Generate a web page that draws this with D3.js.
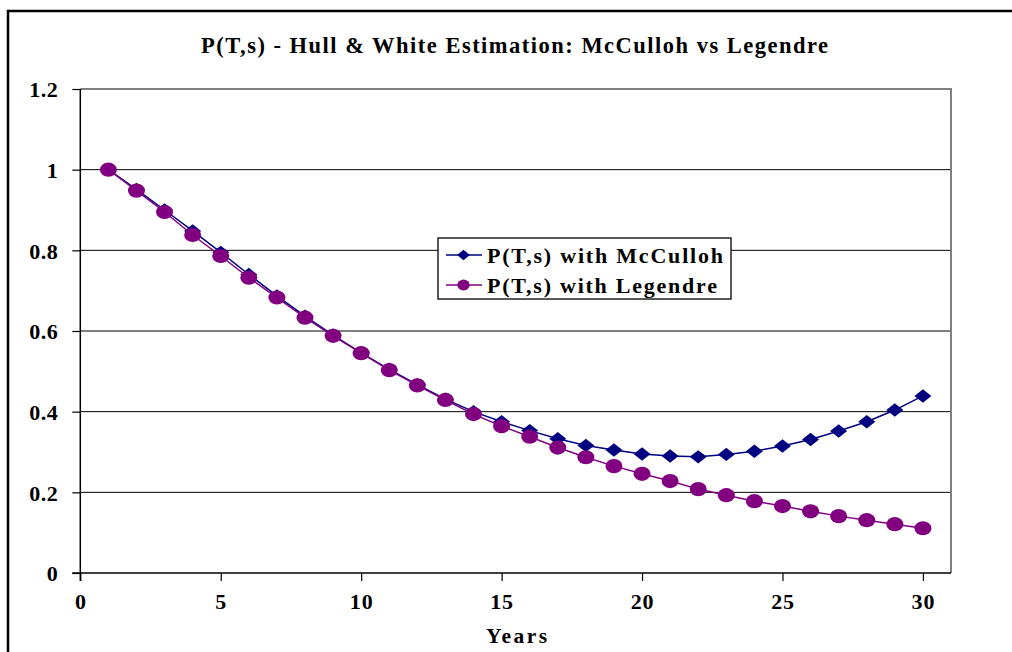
<!DOCTYPE html>
<html>
<head>
<meta charset="utf-8">
<script src="https://cdn.jsdelivr.net/npm/d3@7/dist/d3.min.js"></script>
<style>
  html, body { margin: 0; padding: 0; background: #fff; }
  svg { display: block; }
  text { font-family: "Liberation Serif", "Times New Roman", serif; font-weight: bold; fill: #000; }
</style>
</head>
<body>
<svg id="chart" width="1012" height="652"></svg>
<script>
const years = [1,2,3,4,5,6,7,8,9,10,11,12,13,14,15,16,17,18,19,20,21,22,23,24,25,26,27,28,29,30];
const mcculloh = [1.000,0.951,0.900,0.848,0.795,0.740,0.687,0.637,0.590,0.546,0.505,0.467,0.431,0.400,0.375,0.353,0.333,0.316,0.305,0.295,0.290,0.288,0.294,0.302,0.315,0.331,0.352,0.375,0.404,0.439];
const legendre = [1.000,0.948,0.895,0.838,0.786,0.732,0.683,0.633,0.588,0.545,0.503,0.465,0.429,0.394,0.364,0.338,0.311,0.287,0.265,0.246,0.228,0.208,0.193,0.178,0.166,0.153,0.141,0.131,0.121,0.111];
const xTicks = [0,5,10,15,20,25,30];
const yTicks = [0,0.2,0.4,0.6,0.8,1,1.2];
const seriesNames = ["P(T,s) with McCulloh", "P(T,s) with Legendre"];
const titleText = "P(T,s) - Hull & White Estimation: McCulloh vs Legendre";
const xTitle = "Years";

const svg = d3.select("#chart");
const x = d3.scaleLinear().domain([0, 31]).range([80.3, 951]);
const y = d3.scaleLinear().domain([0, 1.2]).range([573, 89]);

// outer frame
svg.append("rect").attr("x", 8).attr("y", 11).attr("width", 1020).attr("height", 700)
  .attr("fill", "none").attr("stroke", "#000").attr("stroke-width", 2.5);

// title
svg.append("text").attr("x", 201).attr("y", 53).attr("font-size", 22.5)
  .attr("textLength", 627).attr("lengthAdjust", "spacing").text(titleText);

// gridlines
svg.append("g").selectAll("line").data(yTicks.filter(d => d > 0 && d < 1.2)).join("line")
  .attr("x1", 80).attr("x2", 951).attr("y1", d => y(d)).attr("y2", d => y(d))
  .attr("stroke", "#000").attr("stroke-width", 1);

// plot border top/right
svg.append("path")
  .attr("d", `M${x(0)},${y(1.2)}H${x(31)}V${y(0)}`)
  .attr("fill", "none").attr("stroke", "#808080").attr("stroke-width", 2);

// y axis
const yAxis = d3.axisLeft(y).tickValues(yTicks).tickSize(8).tickPadding(14)
  .tickFormat(d => d3.format("")(+d.toFixed(1)));
const gy = svg.append("g").attr("transform", `translate(${x(0)},0)`).call(yAxis);
gy.select(".domain").remove();
gy.selectAll(".tick line").attr("stroke", "#000").attr("stroke-width", 1.2);
gy.selectAll(".tick text").attr("font-size", 22).attr("letter-spacing", 0.5)
  .attr("dy", "0.35em");
svg.append("line").attr("x1", x(0)).attr("x2", x(0)).attr("y1", y(1.2)).attr("y2", y(0) + 8)
  .attr("stroke", "#000").attr("stroke-width", 1.5);

// x axis
const xAxis = d3.axisBottom(x).tickValues(xTicks).tickSize(8).tickPadding(12).tickFormat(d3.format("d"));
const gx = svg.append("g").attr("transform", `translate(0,${y(0)})`).call(xAxis);
gx.select(".domain").remove();
gx.selectAll(".tick line").attr("stroke", "#000").attr("stroke-width", 1.2);
gx.selectAll(".tick text").attr("font-size", 22).attr("letter-spacing", 0.8);
svg.append("line").attr("x1", x(0) - 8).attr("x2", x(31)).attr("y1", y(0)).attr("y2", y(0))
  .attr("stroke", "#000").attr("stroke-width", 1.5);

// x title
svg.append("text").attr("x", 486).attr("y", 643).attr("font-size", 21.5)
  .attr("textLength", 61).attr("lengthAdjust", "spacing").text(xTitle);

// series
const line = d3.line().x(d => x(d[0])).y(d => y(d[1]));
const mcData = years.map((t, i) => [t, mcculloh[i]]);
const lgData = years.map((t, i) => [t, legendre[i]]);
const navy = "#000080", purple = "#800080";

function diamondPath(cx, cy, hw, hh) {
  return `M${cx},${cy - hh}L${cx + hw},${cy}L${cx},${cy + hh}L${cx - hw},${cy}Z`;
}

svg.append("path").datum(mcData).attr("d", line).attr("fill", "none")
  .attr("stroke", navy).attr("stroke-width", 1.5);
svg.append("g").selectAll("path").data(mcData).join("path")
  .attr("d", d => diamondPath(x(d[0]), y(d[1]), 8.5, 6.7)).attr("fill", navy);

svg.append("path").datum(lgData).attr("d", line).attr("fill", "none")
  .attr("stroke", purple).attr("stroke-width", 1.5);
svg.append("g").selectAll("ellipse").data(lgData).join("ellipse")
  .attr("cx", d => x(d[0])).attr("cy", d => y(d[1])).attr("rx", 8.5).attr("ry", 7.1).attr("fill", purple);

// legend
const lg = svg.append("g");
lg.append("rect").attr("x", 438).attr("y", 238).attr("width", 293).attr("height", 61)
  .attr("fill", "#fff").attr("stroke", "#222").attr("stroke-width", 1.5);
const rows = [
  { name: seriesNames[0], color: navy, cy: 255, len: 236, marker: "d" },
  { name: seriesNames[1], color: purple, cy: 285, len: 230, marker: "c" }
];
rows.forEach(r => {
  lg.append("line").attr("x1", 446).attr("x2", 482).attr("y1", r.cy).attr("y2", r.cy)
    .attr("stroke", r.color).attr("stroke-width", 1.5);
  if (r.marker === "d") {
    lg.append("path").attr("d", diamondPath(463.5, r.cy, 6.4, 5.2)).attr("fill", r.color);
  } else {
    lg.append("ellipse").attr("cx", 463.5).attr("cy", r.cy).attr("rx", 6.2).attr("ry", 5.4).attr("fill", r.color);
  }
  lg.append("text").attr("x", 487).attr("y", r.cy + 7.5).attr("font-size", 22)
    .attr("textLength", r.len).attr("lengthAdjust", "spacing").text(r.name);
});
</script>
</body>
</html>
